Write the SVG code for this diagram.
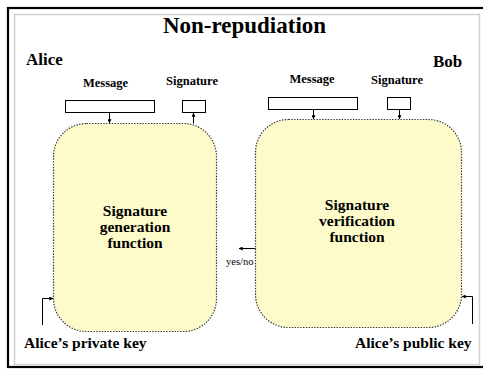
<svg xmlns="http://www.w3.org/2000/svg" width="483" height="369" viewBox="0 0 483 369">
  <defs>
    <marker id="arr" viewBox="0 0 6 6" refX="5.5" refY="3" markerWidth="4" markerHeight="4" orient="auto" markerUnits="userSpaceOnUse">
      <path d="M0,0 L6,3 L0,6 Z" fill="#000"/>
    </marker>
  </defs>
  <style>
    text { font-family: "Liberation Serif", "Times New Roman", serif; fill: #000; }
    .title { font-size: 23px; font-weight: bold; text-anchor: middle; }
    .who { font-size: 17px; font-weight: bold; }
    .small { font-size: 12.5px; font-weight: bold; text-anchor: middle; }
    .fn { font-size: 15.5px; font-weight: bold; text-anchor: middle; }
    .key { font-size: 15.5px; font-weight: bold; }
    .yn { font-size: 10.5px; }
    .box { fill: #fff; stroke: #000; stroke-width: 1; }
    .func { fill: #FEFBCA; stroke: #333; stroke-width: 1.2; stroke-dasharray: 1.4 1.4; }
    .wire { fill: none; stroke: #000; stroke-width: 1; marker-end: url(#arr); }
  </style>

  <rect x="0" y="0" width="483" height="369" fill="#fff"/>
  <!-- slide frame -->
  <rect x="8" y="8" width="480" height="359" fill="none" stroke="#000" stroke-width="2.2"/>
  <rect x="14.5" y="14.5" width="465" height="350" fill="none" stroke="#d0d0d0" stroke-width="1.5"/>

  <text class="title" x="244.5" y="33">Non-repudiation</text>
  <text class="who" x="26" y="65">Alice</text>
  <text class="who" x="433" y="67">Bob</text>

  <!-- result label sits under the verifier box edge -->
  <text class="yn" x="226" y="265">yes/no</text>

  <g id="alice-message">
    <text class="small" x="105.5" y="87">Message</text>
    <rect class="box" x="65.5" y="100.5" width="89" height="12"/>
  </g>
  <g id="alice-signature">
    <text class="small" x="192" y="85">Signature</text>
    <rect class="box" x="182.5" y="100.5" width="23" height="12"/>
  </g>
  <g id="bob-message">
    <text class="small" x="312" y="83">Message</text>
    <rect class="box" x="268.5" y="97.5" width="89" height="12"/>
  </g>
  <g id="bob-signature">
    <text class="small" x="397" y="84">Signature</text>
    <rect class="box" x="387.5" y="97.5" width="23" height="12"/>
  </g>

  <g id="sig-generation">
    <rect class="func" x="53.5" y="123.5" width="163" height="208" rx="33" ry="33"/>
    <text class="fn" x="135" y="216">Signature</text>
    <text class="fn" x="135" y="232">generation</text>
    <text class="fn" x="135" y="248">function</text>
  </g>
  <g id="sig-verification">
    <rect class="func" x="255.5" y="119.5" width="206" height="208" rx="33" ry="33"/>
    <text class="fn" x="357" y="210">Signature</text>
    <text class="fn" x="357" y="226">verification</text>
    <text class="fn" x="357" y="242">function</text>
  </g>

  <g id="alice-private-key">
    <text class="key" x="24" y="348">Alice’s private key</text>
  </g>
  <g id="alice-public-key">
    <text class="key" x="355" y="348">Alice’s public key</text>
  </g>

  <g id="connectors">
    <path class="wire" d="M109.5,112.5 V123"/>
    <path class="wire" d="M193.5,123.5 V113"/>
    <path class="wire" d="M313.5,109.5 V119"/>
    <path class="wire" d="M399.5,109.5 V119"/>
    <path class="wire" d="M255.5,248.5 H239"/>
    <path class="wire" d="M42.5,325 V298.5 H53"/>
    <path class="wire" d="M472.5,324 V296.5 H462"/>
  </g>
</svg>
